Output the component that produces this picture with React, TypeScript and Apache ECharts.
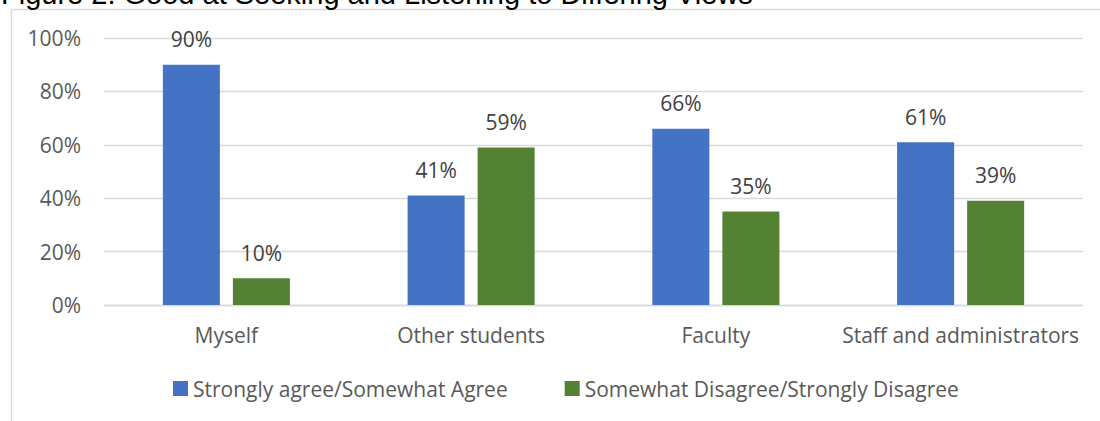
import React, { useEffect, useRef } from "react";
import * as echarts from "echarts";

const titleText = "Figure 2. Good at Seeking and Listening to Differing Views";
const categories = ["Myself", "Other students", "Faculty", "Staff and administrators"];
const seriesNames = ["Strongly agree/Somewhat Agree", "Somewhat Disagree/Strongly Disagree"];
const agreeValues = [90, 41, 66, 61];
const disagreeValues = [10, 59, 35, 39];
const colors = ["#4472C4", "#548235"];

const FONT = "'Open Sans', sans-serif";

export default function App() {
  const ref = useRef<HTMLDivElement>(null);
  useEffect(() => {
    if (!ref.current) return;
    const chart = echarts.init(ref.current, null, { renderer: "svg" });
    const labelCfg = {
      show: true,
      position: "top",
      distance: 15,
      formatter: "{c}%",
      color: "#404040",
      fontSize: 21,
      fontFamily: FONT,
    };
    chart.setOption({
      animation: false,
      backgroundColor: "#ffffff",
      graphic: [
        {
          type: "rect",
          shape: { x: 11.5, y: 9.5, width: 1300, height: 600 },
          style: { fill: "none", stroke: "#d9d9d9", lineWidth: 1.5 },
          silent: true,
        },
        {
          type: "text",
          x: 1,
          y: -6,
          style: {
            text: titleText,
            fill: "#000000",
            fontSize: 29,
            fontFamily: "'Liberation Sans', Arial, sans-serif",
            verticalAlign: "middle",
            align: "left",
          },
        },
      ],
      grid: { left: 104, right: 17, top: 38, bottom: 116, containLabel: false },
      legend: {
        left: 168,
        top: 373,
        itemWidth: 15,
        itemHeight: 15,
        itemGap: 57,
        icon: "rect",
        textStyle: { color: "#595959", fontSize: 21, fontFamily: FONT },
        data: seriesNames,
      },
      xAxis: {
        type: "category",
        data: categories,
        axisLine: { lineStyle: { color: "#d9d9d9", width: 1.3 } },
        axisTick: { show: false },
        axisLabel: { color: "#595959", fontSize: 21, fontFamily: FONT, margin: 19, interval: 0 },
      },
      yAxis: {
        type: "value",
        min: 0,
        max: 100,
        interval: 20,
        axisLine: { show: false },
        axisTick: { show: false },
        splitLine: { lineStyle: { color: "#d9d9d9", width: 1.3 } },
        axisLabel: { color: "#595959", fontSize: 21, fontFamily: FONT, margin: 23, formatter: "{value}%" },
      },
      series: [
        {
          name: seriesNames[0],
          type: "bar",
          data: agreeValues,
          itemStyle: { color: colors[0] },
          barWidth: "23.3%",
          barGap: "22.8%",
          label: labelCfg,
        },
        {
          name: seriesNames[1],
          type: "bar",
          data: disagreeValues,
          itemStyle: { color: colors[1] },
          barWidth: "23.3%",
          barGap: "22.8%",
          label: labelCfg,
        },
      ],
    });
    return () => chart.dispose();
  }, []);
  return (
    <div
      ref={ref}
      style={{ position: "fixed", left: 0, top: 0, width: 1100, height: 421 }}
    />
  );
}
